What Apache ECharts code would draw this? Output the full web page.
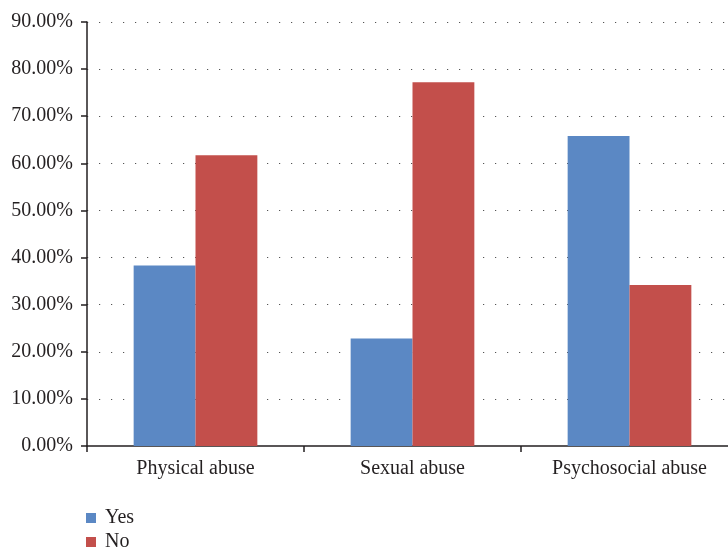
<!DOCTYPE html>
<html>
<head>
<meta charset="utf-8">
<script src="https://cdn.jsdelivr.net/npm/echarts@6/dist/echarts.min.js"></script>
<style>
  html, body { margin: 0; padding: 0; background: #fff; }
  #chart { width: 728px; height: 550px; }
</style>
</head>
<body>
<div id="chart"></div>
<script>
// Abuse types and share of respondents answering Yes / No (percent)
const categories = ['Physical abuse', 'Sexual abuse', 'Psychosocial abuse'];
const yesValues = [38.3, 22.8, 65.8];
const noValues = [61.7, 77.2, 34.2];
const seriesNames = ['Yes', 'No'];

const textColor = '#231f20';
const fontFamily = '"Liberation Serif", "DejaVu Serif", serif';
const fontSize = 20;

const chart = echarts.init(document.getElementById('chart'));
chart.setOption({
  animation: false,
  textStyle: { fontFamily: fontFamily, color: textColor },
  grid: {
    left: 87, top: 22, width: 651, bottom: 104,
    containLabel: false, outerBoundsMode: 'none'
  },
  legend: {
    data: seriesNames,
    orient: 'vertical',
    left: 81,
    top: 503,
    height: 60,
    itemWidth: 10,
    itemHeight: 10,
    itemGap: 4,
    icon: 'rect',
    textStyle: { fontFamily: fontFamily, fontSize: fontSize, lineHeight: 20, color: textColor, padding: [0, 0, 0, 4] }
  },
  xAxis: {
    type: 'category',
    data: categories,
    axisLine: { lineStyle: { color: '#231f20', width: 1.5 } },
    axisTick: { show: true, length: 6, lineStyle: { color: '#231f20', width: 1.5 } },
    axisLabel: { fontFamily: fontFamily, fontSize: fontSize, color: textColor, margin: 13 }
  },
  yAxis: {
    type: 'value',
    min: 0,
    max: 90,
    interval: 10,
    axisLine: { show: true, lineStyle: { color: '#231f20', width: 1.5 } },
    axisTick: { show: true, length: 6, lineStyle: { color: '#231f20', width: 1.5 } },
    axisLabel: {
      fontFamily: fontFamily, fontSize: fontSize, color: textColor, margin: 14,
      formatter: v => v.toFixed(2) + '%'
    },
    splitLine: {
      show: true,
      showMinLine: false,
      lineStyle: { color: '#555', width: 1.2, type: [1.2, 10.8] }
    }
  },
  series: [
    {
      name: seriesNames[0], type: 'bar', data: yesValues,
      itemStyle: { color: '#5b88c4' },
      barGap: '0%', barCategoryGap: '43%'
    },
    {
      name: seriesNames[1], type: 'bar', data: noValues,
      itemStyle: { color: '#c34f4b' },
      barGap: '0%', barCategoryGap: '43%'
    }
  ]
});
</script>
</body>
</html>
